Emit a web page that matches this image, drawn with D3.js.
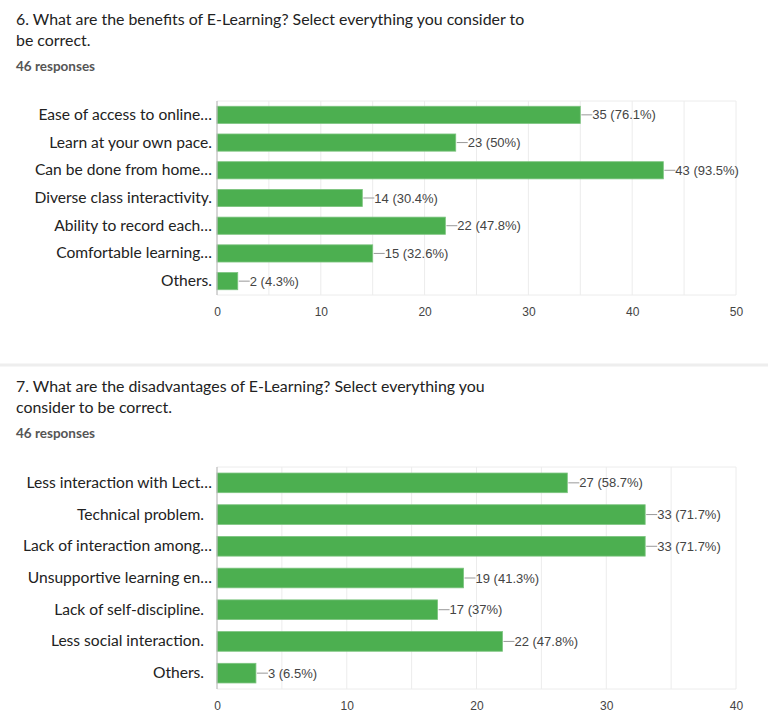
<!DOCTYPE html>
<html><head><meta charset="utf-8">
<script src="https://cdn.jsdelivr.net/npm/d3@7"></script>
<style>
body{margin:0;background:#fff;}
svg text{white-space:pre;}
</style></head>
<body>
<svg id="chart" width="768" height="723"></svg>
<script>
// ---- Data ----
const title1 = ["6. What are the benefits of E-Learning? Select everything you consider to", "be correct."];
const responses1 = "46 responses";
const categories1 = ["Ease of access to online…", "Learn at your own pace.", "Can be done from home…", "Diverse class interactivity.", "Ability to record each…", "Comfortable learning…", "Others."];
const values1 = [35, 23, 43, 14, 22, 15, 2];
const pct1 = ["76.1%", "50%", "93.5%", "30.4%", "47.8%", "32.6%", "4.3%"];
const ticks1 = [0, 10, 20, 30, 40, 50];

const title2 = ["7. What are the disadvantages of E-Learning? Select everything you", "consider to be correct."];
const responses2 = "46 responses";
const categories2 = ["Less interaction with Lect…", "Technical problem.  ", "Lack of interaction among…", "Unsupportive learning en…", "Lack of self-discipline.  ", "Less social interaction.  ", "Others.  "];
const values2 = [27, 33, 33, 19, 17, 22, 3];
const pct2 = ["58.7%", "71.7%", "71.7%", "41.3%", "37%", "47.8%", "6.5%"];
const ticks2 = [0, 10, 20, 30, 40];

const svg = d3.select("#chart");
const GREEN = "#4caf50";

function panel(cfg){
  const g = svg.append("g");
  cfg.title.forEach((t,i)=>{
    g.append("text").attr("x",16).attr("y",cfg.titleY + i*21)
      .attr("font-family","Lato, 'Open Sans', sans-serif").attr("font-size",15.9)
      .attr("fill","#222").text(t);
  });
  g.append("text").attr("x",16).attr("y",cfg.titleY + 46)
    .attr("font-family","Lato, sans-serif").attr("font-size",13.5).attr("font-weight","bold")
    .attr("fill","#555").text(cfg.responses);

  const x = d3.scaleLinear().domain([0, cfg.max]).range([217, 736]);
  const y = d3.scaleBand().domain(cfg.categories).range([cfg.top, cfg.bottom])
    .paddingInner(0.38).paddingOuter(0.19);

  const grid = d3.range(5, cfg.max+0.1, 5);
  g.selectAll(".grid").data(grid).enter().append("line")
    .attr("x1",d=>x(d)).attr("x2",d=>x(d))
    .attr("y1",cfg.top).attr("y2",cfg.bottom)
    .attr("stroke","#ececec").attr("stroke-width",1);
  g.append("line").attr("x1",x(0)).attr("x2",x(cfg.max)).attr("y1",cfg.top).attr("y2",cfg.top).attr("stroke","#ececec");
  g.append("line").attr("x1",x(0)).attr("x2",x(cfg.max)).attr("y1",cfg.bottom).attr("y2",cfg.bottom).attr("stroke","#ececec");

  g.selectAll(".bar").data(cfg.values).enter().append("rect")
    .attr("x",x(0)).attr("y",(d,i)=>y(cfg.categories[i]))
    .attr("width",d=>x(d)-x(0)).attr("height",y.bandwidth())
    .attr("fill",GREEN).attr("stroke","#7cc47f").attr("stroke-width",0.8);

  g.append("line").attr("x1",x(0)).attr("x2",x(0)).attr("y1",cfg.top).attr("y2",cfg.bottom)
    .attr("stroke","#bbb").attr("stroke-width",1.2);

  cfg.values.forEach((v,i)=>{
    const cy = y(cfg.categories[i]) + y.bandwidth()/2;
    g.append("line").attr("x1",x(v)+1).attr("x2",x(v)+12).attr("y1",cy).attr("y2",cy)
      .attr("stroke","#999").attr("stroke-width",1);
    g.append("text").attr("x",x(v)+12).attr("y",cy).attr("dy","0.35em")
      .attr("font-family","Arial, 'Liberation Sans', sans-serif").attr("font-size",13)
      .attr("fill","#444").text(`${v} (${cfg.pct[i]})`);
  });

  const yAxis = d3.axisLeft(y).tickSize(0).tickPadding(5);
  const ya = g.append("g").attr("transform",`translate(${x(0)},0)`).call(yAxis);
  ya.select(".domain").remove();
  ya.selectAll("text").attr("font-family","Lato, 'Open Sans', sans-serif").attr("font-size",15.6).attr("fill","#222");

  const xAxis = d3.axisBottom(x).tickValues(cfg.ticks).tickSize(0).tickPadding(12);
  const xa = g.append("g").attr("transform",`translate(0,${cfg.bottom})`).call(xAxis);
  xa.select(".domain").remove();
  xa.selectAll("text").attr("font-family","Arial, 'Liberation Sans', sans-serif").attr("font-size",12).attr("fill","#444");
}

panel({title:title1, responses:responses1, titleY:25, categories:categories1, values:values1, pct:pct1, ticks:ticks1, max:50, top:101, bottom:295});

svg.append("line").attr("x1",0).attr("x2",768).attr("y1",365).attr("y2",365).attr("stroke","#eee").attr("stroke-width",3);

panel({title:title2, responses:responses2, titleY:392, categories:categories2, values:values2, pct:pct2, ticks:ticks2, max:40, top:467, bottom:689});
</script>
</body></html>
